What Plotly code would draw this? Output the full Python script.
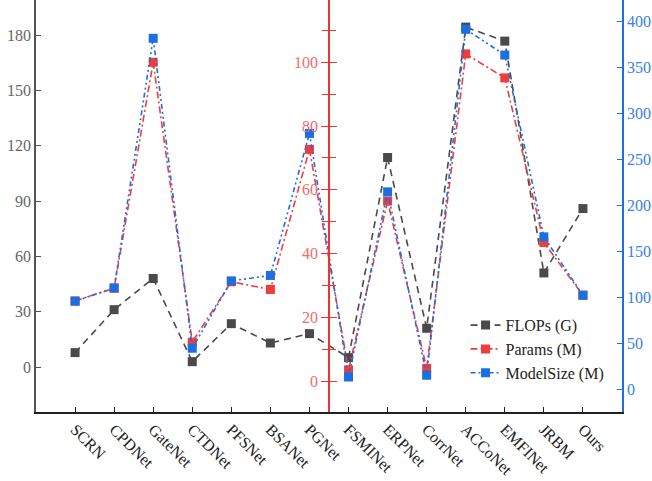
import plotly.graph_objects as go

models = ["SCRN", "CPDNet", "GateNet", "CTDNet", "PFSNet", "BSANet", "PGNet",
          "FSMINet", "ERPNet", "CorrNet", "ACCoNet", "EMFINet", "JRBM", "Ours"]
flops_g = [7.8, 31.1, 48.0, 2.9, 23.5, 13.0, 18.1, 5.1, 113.6, 21.0, 184.3, 176.7, 51.0, 85.9]
params_m = [25.2, 29.2, 100.0, 12.3, 31.2, 28.8, 72.7, 3.6, 56.5, 4.1, 102.6, 95.1, 43.5, 27.0]
modelsize_m = [95.9, 110.3, 382.0, 44.7, 118.0, 123.9, 278.5, 13.4, 214.9, 15.3, 391.8, 363.8, 165.9, 102.4]

left_ticks = [0, 30, 60, 90, 120, 150, 180]
mid_ticks = [0, 20, 40, 60, 80, 100]
mid_minor = [10, 30, 50, 70, 90, 110]
right_ticks = [0, 50, 100, 150, 200, 250, 300, 350, 400]

FONT = "Times New Roman, Liberation Serif, serif"
GRAY = "#4a4a4a"
RED = "#f03c3c"
BLUE = "#1b6fe0"

fig = go.Figure()
fig.add_trace(go.Scatter(
    x=models, y=flops_g, name="FLOPs (G)", yaxis="y",
    mode="lines+markers",
    line=dict(color=GRAY, width=1.6, dash="7px,5px"),
    marker=dict(symbol="square", size=9, color=GRAY)))
fig.add_trace(go.Scatter(
    x=models, y=params_m, name="Params (M)", yaxis="y2",
    mode="lines+markers",
    line=dict(color=RED, width=1.6, dash="7px,3px,2px,3px"),
    marker=dict(symbol="square", size=9, color=RED)))
fig.add_trace(go.Scatter(
    x=models, y=modelsize_m, name="ModelSize (M)", yaxis="y3",
    mode="lines+markers",
    line=dict(color=BLUE, width=1.6, dash="5px,3px,2px,3px,2px,3px"),
    marker=dict(symbol="square", size=9, color=BLUE)))
# empty helper trace so the inner half of the middle axis ticks is drawn
fig.add_trace(go.Scatter(x=[], y=[], yaxis="y4", showlegend=False, hoverinfo="skip"))

fig.update_layout(
    template="none",
    width=652, height=481,
    margin=dict(l=36, r=30, t=0, b=69, autoexpand=False),
    paper_bgcolor="white", plot_bgcolor="white",
    font=dict(family=FONT, size=16, color="#222"),
    showlegend=True,
    legend=dict(x=0.733, y=0.252, xanchor="left", yanchor="top",
                bgcolor="rgba(0,0,0,0)", font=dict(family=FONT, size=16, color="#222"),
                tracegroupgap=0, itemsizing="trace"),
    xaxis=dict(type="category", categoryorder="array", categoryarray=models,
               range=[-1, 14], showgrid=False, zeroline=False, automargin=False,
               showline=True, linecolor="#222", linewidth=1.6,
               ticks="inside", ticklen=5, tickcolor="#222", tickwidth=1.2,
               tickangle=45, tickfont=dict(family=FONT, size=16, color="#222")),
    yaxis=dict(range=[-24.4, 199], tickvals=left_ticks, showgrid=False, zeroline=False,
               automargin=False,
               showline=True, linecolor="#555", linewidth=1.8,
               ticks="inside", ticklen=5, tickcolor="#555", tickwidth=1.2,
               tickfont=dict(family=FONT, size=16, color="#666")),
    yaxis2=dict(range=[-9.6, 119.5], tickvals=mid_ticks, overlaying="y", anchor="free",
                position=0.5, side="left", showgrid=False, zeroline=False, automargin=False,
                showline=True, linecolor="#ee3333", linewidth=1.6,
                ticks="outside", ticklen=7, tickcolor="#ee3333", tickwidth=1.2,
                minor=dict(tickvals=mid_minor, ticks="outside",
                           ticklen=6, tickcolor="#ee3333", tickwidth=1.2),
                tickfont=dict(family=FONT, size=16, color="#f46a6a")),
    yaxis4=dict(range=[-9.6, 119.5], tickvals=mid_ticks, overlaying="y", anchor="free",
                position=0.5, side="left", showgrid=False, zeroline=False, automargin=False,
                showline=False, showticklabels=False,
                ticks="inside", ticklen=7, tickcolor="#ee3333", tickwidth=1.2,
                minor=dict(tickvals=mid_minor, ticks="inside",
                           ticklen=6, tickcolor="#ee3333", tickwidth=1.2)),
    yaxis3=dict(range=[-24.7, 423.7], tickvals=right_ticks, overlaying="y", anchor="x",
                side="right", showgrid=False, zeroline=False, automargin=False,
                showline=True, linecolor=BLUE, linewidth=1.6,
                ticks="inside", ticklen=5, tickcolor=BLUE, tickwidth=1.2,
                tickfont=dict(family=FONT, size=16, color="#3a80e6")),
)

fig.write_html("out.html",
               config={"displayModeBar": False},
               post_script="document.body.style.margin='0';document.body.style.padding='0';")
